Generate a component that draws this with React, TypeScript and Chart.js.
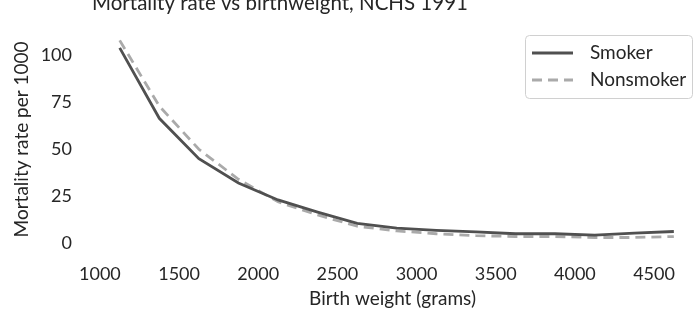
import React, { useEffect, useRef } from "react";
import { Chart, registerables } from "chart.js";

Chart.register(...registerables);

const WEIGHTS = [1125, 1375, 1625, 1875, 2125, 2375, 2625, 2875, 3125, 3375, 3625, 3875, 4125, 4375, 4625];
const SMOKER = [104, 66.5, 45, 32, 23, 16.5, 10.5, 8, 6.8, 6, 5, 5, 4.3, 5.3, 6.2];
const NONSMOKER = [108, 73, 50, 34, 22, 15, 9, 6.5, 5, 4, 3.5, 3.5, 3, 3, 3.5];
const X_TICKS = [1000, 1500, 2000, 2500, 3000, 3500, 4000, 4500];
const Y_TICKS = [0, 25, 50, 75, 100];
const TITLE = "Mortality rate vs birthweight, NCHS 1991";
const X_LABEL = "Birth weight (grams)";
const Y_LABEL = "Mortality rate per 1000";

const FONT = "Lato, 'Noto Sans', sans-serif";
const TEXT = "#262626";

const titlePlugin = {
  id: "customTitle",
  afterDraw(chart: any) {
    const ctx = chart.ctx;
    ctx.save();
    ctx.font = `20.5px ${FONT}`;
    ctx.fillStyle = TEXT;
    ctx.textAlign = "left";
    ctx.textBaseline = "alphabetic";
    ctx.fillText(TITLE, chart.chartArea.left, 10);
    ctx.restore();
  },
};

const legendPlugin = {
  id: "customLegend",
  afterDraw(chart: any) {
    const ctx = chart.ctx;
    const x0 = 525, y0 = 35, w = 167, h = 63;
    ctx.save();
    ctx.beginPath();
    if (ctx.roundRect) ctx.roundRect(x0 + 0.5, y0 + 0.5, w, h, 4);
    else ctx.rect(x0 + 0.5, y0 + 0.5, w, h);
    ctx.fillStyle = "rgba(255,255,255,0.85)";
    ctx.fill();
    ctx.strokeStyle = "#d0d0d0";
    ctx.lineWidth = 1;
    ctx.stroke();
    chart.data.datasets.forEach((ds: any, i: number) => {
      const y = 53 + i * 27;
      ctx.beginPath();
      ctx.strokeStyle = ds.borderColor;
      ctx.lineWidth = ds.borderWidth;
      ctx.setLineDash(ds.borderDash || []);
      ctx.moveTo(532, y);
      ctx.lineTo(573, y);
      ctx.stroke();
      ctx.setLineDash([]);
      ctx.font = `19px ${FONT}`;
      ctx.fillStyle = TEXT;
      ctx.textAlign = "left";
      ctx.textBaseline = "middle";
      ctx.fillText(ds.label, 590, y);
    });
    ctx.restore();
  },
};

export default function App() {
  const ref = useRef<HTMLCanvasElement>(null);
  useEffect(() => {
    if (!ref.current) return;
    const chart = new Chart(ref.current, {
      type: "line",
      data: {
        datasets: [
          {
            label: "Smoker",
            data: WEIGHTS.map((x, i) => ({ x, y: SMOKER[i] })),
            borderColor: "#505050",
            borderWidth: 2.8,
            pointRadius: 0,
            tension: 0,
            fill: false,
          },
          {
            label: "Nonsmoker",
            data: WEIGHTS.map((x, i) => ({ x, y: NONSMOKER[i] })),
            borderColor: "#aaaaaa",
            borderWidth: 2.8,
            borderDash: [10, 6],
            pointRadius: 0,
            tension: 0,
            fill: false,
          },
        ],
      },
      options: {
        responsive: false,
        animation: false,
        devicePixelRatio: 1,
        layout: { padding: { top: 27, right: 0, bottom: 0, left: 0 } },
        plugins: { legend: { display: false }, title: { display: false }, tooltip: { enabled: false } },
        scales: {
          x: {
            type: "linear",
            min: 950,
            max: 4746,
            border: { display: false },
            grid: { display: false, drawTicks: false },
            afterBuildTicks: (s: any) => { s.ticks = X_TICKS.map((v) => ({ value: v })); },
            afterFit: (s: any) => { s.height = 76; },
            ticks: { color: TEXT, font: { family: FONT, size: 18 }, padding: 15, maxRotation: 0, autoSkip: false, callback: (v: any) => String(v) },
            title: { display: true, text: X_LABEL, color: TEXT, font: { family: FONT, size: 19 }, padding: { top: 0, bottom: 14 } },
          },
          y: {
            type: "linear",
            min: -2.6,
            max: 113.1,
            border: { display: false },
            grid: { display: false, drawTicks: false },
            afterBuildTicks: (s: any) => { s.ticks = Y_TICKS.map((v) => ({ value: v })); },
            afterFit: (s: any) => { s.width = 92; },
            ticks: { color: TEXT, font: { family: FONT, size: 18 }, padding: 20, callback: (v: any) => String(v) },
            title: { display: true, text: Y_LABEL, color: TEXT, font: { family: FONT, size: 19 }, padding: { top: 10.5, bottom: 0 } },
          },
        },
      },
      plugins: [titlePlugin, legendPlugin],
    });
    return () => chart.destroy();
  }, []);
  return (
    <div style={{ position: "absolute", left: 0, top: 0, width: 693, height: 324, background: "#fff" }}>
      <canvas ref={ref} width={693} height={324} style={{ display: "block" }} />
    </div>
  );
}
